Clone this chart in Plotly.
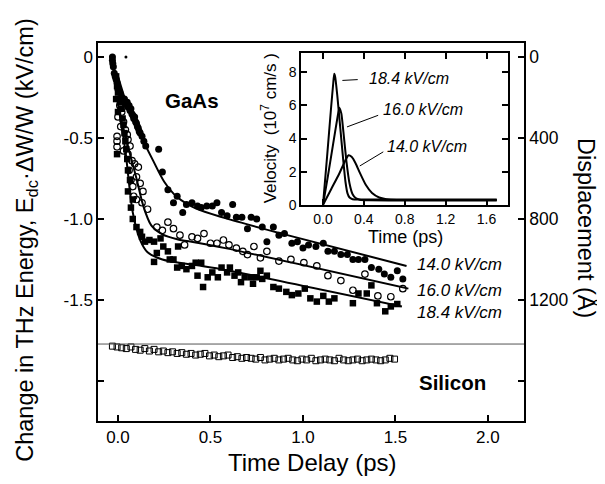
import plotly.graph_objects as go

# ---------------- data ----------------
# GaAs, 14.0 kV/cm (filled circles)
gaas_140_pts = [(-0.03, 0.0), (-0.03, -0.02), (-0.028, -0.04), (-0.025, -0.06), (-0.02, -0.10), (-0.015, -0.12),
                (-0.01, -0.14), (-0.005, -0.16), (0.0, -0.20), (0.01, -0.22), (0.02, -0.25), (0.03, -0.27),
                (0.035, -0.26), (0.04, -0.29), (0.05, -0.28), (0.055, -0.31), (0.06, -0.30), (0.065, -0.33),
                (0.07, -0.32), (0.075, -0.35), (0.08, -0.36), (0.085, -0.38), (0.09, -0.37), (0.095, -0.40),
                (0.10, -0.41), (0.105, -0.43), (0.11, -0.44), (0.115, -0.46), (0.12, -0.47), (0.13, -0.49),
                (0.14, -0.52), (0.15, -0.55), (0.22, -0.57), (0.24, -0.71), (0.27, -0.82), (0.30, -0.90),
                (0.32, -0.86), (0.35, -0.96), (0.37, -0.91), (0.40, -0.90), (0.43, -0.92), (0.45, -0.93),
                (0.48, -0.92), (0.51, -0.92), (0.535, -0.90), (0.56, -0.96), (0.59, -0.98), (0.62, -0.91),
                (0.64, -0.99), (0.67, -0.99), (0.70, -1.06), (0.72, -0.99), (0.75, -1.00), (0.78, -1.05),
                (0.805, -1.14), (0.84, -1.05), (0.87, -1.10), (0.90, -1.09), (0.94, -1.15), (0.97, -1.14),
                (1.00, -1.18), (1.03, -1.16), (1.07, -1.17), (1.11, -1.15), (1.135, -1.20), (1.17, -1.20),
                (1.205, -1.22), (1.24, -1.22), (1.27, -1.25), (1.30, -1.25), (1.335, -1.25), (1.37, -1.30),
                (1.41, -1.31), (1.44, -1.34), (1.475, -1.36), (1.51, -1.32), (1.54, -1.37)]
gaas_stray_pts = [(0.043, 0.0)]

# GaAs, 16.0 kV/cm (open circles)
gaas_160_pts = [(0.01, -0.30), (0.02, -0.34), (0.0, -0.37), (0.03, -0.40), (0.015, -0.43), (0.04, -0.45),
                (0.05, -0.48), (-0.005, -0.49), (-0.005, -0.52), (-0.005, -0.555), (0.054, -0.51),
                (0.065, -0.55), (0.03, -0.58), (0.054, -0.60), (0.076, -0.64), (0.09, -0.66), (0.06, -0.70),
                (0.11, -0.68), (0.07, -0.76), (0.10, -0.74), (0.08, -0.80), (0.12, -0.78), (0.085, -0.86),
                (0.135, -0.83), (0.10, -0.88), (0.13, -0.90), (0.16, -0.94), (0.21, -1.05), (0.24, -1.07),
                (0.27, -1.02), (0.30, -1.06), (0.335, -1.10), (0.36, -1.16), (0.40, -1.11), (0.43, -1.12),
                (0.465, -1.09), (0.50, -1.15), (0.535, -1.15), (0.57, -1.13), (0.60, -1.16), (0.64, -1.18),
                (0.675, -1.20), (0.70, -1.22), (0.735, -1.17), (0.77, -1.24), (0.805, -1.20), (0.87, -1.26),
                (0.935, -1.25), (1.005, -1.27), (1.075, -1.29), (1.135, -1.35), (1.205, -1.38), (1.27, -1.44),
                (1.335, -1.34), (1.405, -1.475), (1.475, -1.48), (1.54, -1.43)]

# GaAs, 18.4 kV/cm (filled squares)
gaas_184_pts = [(-0.01, -0.12), (-0.005, -0.18), (0.0, -0.22), (-0.01, -0.26), (0.01, -0.28), (0.02, -0.32),
                (0.0, -0.34), (0.025, -0.38), (0.03, -0.42), (0.035, -0.47), (0.04, -0.52), (-0.005, -0.60),
                (0.045, -0.57), (0.05, -0.63), (0.054, -0.70), (0.065, -0.76), (0.054, -0.83), (0.08, -0.88),
                (0.07, -0.93), (0.08, -1.00), (0.10, -1.05), (0.12, -1.08), (0.13, -1.11), (0.146, -1.14),
                (0.17, -1.13), (0.195, -1.14), (0.21, -1.21), (0.23, -1.12), (0.245, -1.17), (0.27, -1.20),
                (0.195, -1.265), (0.28, -1.25), (0.30, -1.25), (0.325, -1.17), (0.32, -1.30), (0.345, -1.29),
                (0.37, -1.31), (0.40, -1.29), (0.42, -1.27), (0.45, -1.27), (0.43, -1.35), (0.46, -1.42),
                (0.485, -1.36), (0.51, -1.33), (0.54, -1.36), (0.56, -1.30), (0.59, -1.33), (0.605, -1.30),
                (0.63, -1.35), (0.65, -1.33), (0.665, -1.39), (0.685, -1.36), (0.72, -1.36), (0.73, -1.40),
                (0.75, -1.36), (0.77, -1.32), (0.78, -1.37), (0.805, -1.35), (0.84, -1.42), (0.87, -1.43),
                (0.91, -1.45), (0.94, -1.47), (0.975, -1.46), (1.01, -1.43), (1.04, -1.49), (1.075, -1.51),
                (1.11, -1.475), (1.14, -1.51), (1.17, -1.49), (1.27, -1.52), (1.30, -1.46), (1.345, -1.46),
                (1.37, -1.41), (1.40, -1.52), (1.445, -1.57), (1.475, -1.54), (1.51, -1.525)]

# Fit curves
fit_140_t = [0.0, 0.047, 0.108, 0.19, 0.25, 0.32, 0.42, 0.58, 0.90, 1.56]
fit_140_v = [-0.12, -0.29, -0.45, -0.64, -0.77, -0.865, -0.935, -0.995, -1.095, -1.29]
fit_160_t = [0.0, 0.07, 0.10, 0.137, 0.18, 0.24, 0.32, 0.42, 0.58, 1.57]
fit_160_v = [-0.31, -0.62, -0.75, -0.92, -1.04, -1.095, -1.125, -1.145, -1.18, -1.43]
fit_184_t = [0.0, 0.04, 0.08, 0.12, 0.16, 0.24, 0.42, 0.58, 1.535]
fit_184_v = [-0.29, -0.58, -0.96, -1.13, -1.205, -1.25, -1.285, -1.315, -1.54]

# Silicon (open squares)
si_t = [-0.03, -0.005, 0.02, 0.045, 0.07, 0.095, 0.12, 0.145, 0.17, 0.195,
        0.22, 0.245, 0.27, 0.295, 0.32, 0.345, 0.37, 0.395, 0.42, 0.445,
        0.47, 0.495, 0.52, 0.545, 0.57, 0.595, 0.62, 0.645, 0.67, 0.695,
        0.72, 0.745, 0.77, 0.795, 0.82, 0.845, 0.87, 0.895, 0.92, 0.945,
        0.97, 0.995, 1.02, 1.045, 1.07, 1.095, 1.12, 1.145, 1.17, 1.195,
        1.22, 1.245, 1.27, 1.295, 1.32, 1.345, 1.37, 1.395, 1.42, 1.445,
        1.47, 1.495]
si_v = [-1.785, -1.79, -1.795, -1.80, -1.79, -1.805, -1.81, -1.80, -1.815, -1.805,
        -1.82, -1.815, -1.825, -1.82, -1.83, -1.825, -1.835, -1.83, -1.84, -1.835,
        -1.83, -1.845, -1.84, -1.85, -1.845, -1.84, -1.855, -1.85, -1.86, -1.855,
        -1.86, -1.865, -1.855, -1.87, -1.865, -1.86, -1.87, -1.865, -1.86, -1.87,
        -1.875, -1.865, -1.87, -1.86, -1.875, -1.87, -1.865, -1.87, -1.875, -1.86,
        -1.87, -1.875, -1.87, -1.865, -1.875, -1.87, -1.865, -1.87, -1.875, -1.87,
        -1.86, -1.865]
separator_level = -1.772

# Inset velocity curves
vel_184_t = [0.0, 0.04, 0.08, 0.10, 0.11, 0.12, 0.14, 0.17, 0.20, 0.22, 0.24, 0.26, 0.29, 0.35, 0.5, 1.0, 1.7]
vel_184_v = [0.0, 2.9, 5.9, 7.3, 7.9, 7.7, 6.6, 4.6, 2.6, 1.4, 0.7, 0.45, 0.35, 0.33, 0.33, 0.33, 0.33]
vel_160_t = [0.0, 0.05, 0.10, 0.14, 0.16, 0.18, 0.20, 0.23, 0.26, 0.29, 0.32, 0.36, 0.45, 1.0, 1.7]
vel_160_v = [0.0, 1.8, 3.7, 5.2, 5.85, 5.5, 4.4, 2.6, 1.3, 0.65, 0.42, 0.32, 0.28, 0.27, 0.27]
vel_140_t = [0.0, 0.08, 0.16, 0.22, 0.25, 0.28, 0.32, 0.36, 0.42, 0.48, 0.55, 0.62, 0.72, 1.0, 1.7]
vel_140_v = [0.0, 0.95, 1.9, 2.7, 3.0, 2.9, 2.5, 1.95, 1.2, 0.72, 0.45, 0.35, 0.3, 0.3, 0.3]

field_labels = ["14.0 kV/cm", "16.0 kV/cm", "18.4 kV/cm"]

left_ticks = [0, -0.5, -1.0, -1.5]
left_ticktext = ["0", "-0.5", "-1.0", "-1.5"]
left_unlabeled_ticks = [-2.0]
bottom_ticks = [0, 0.5, 1.0, 1.5, 2.0]
bottom_ticktext = ["0.0", "0.5", "1.0", "1.5", "2.0"]
right_ticks = [0, 400, 800, 1200]
right_unlabeled_ticks = [1600]
inset_xticks = [0, 0.4, 0.8, 1.2, 1.6]
inset_xticktext = ["0.0", "0.4", "0.8", "1.2", "1.6"]
inset_yticks = [0, 2, 4, 6, 8]

FONT = "Liberation Sans, Arial, sans-serif"

fig = go.Figure()

def pts(p):
    return [a for a, b in p], [b for a, b in p]

x, y = pts(gaas_140_pts)
fig.add_trace(go.Scatter(x=x, y=y, mode="markers", marker=dict(symbol="circle", size=7, color="black"),
                         showlegend=False))
x, y = pts(gaas_stray_pts)
fig.add_trace(go.Scatter(x=x, y=y, mode="markers", marker=dict(symbol="circle", size=3, color="black"),
                         showlegend=False))
x, y = pts(gaas_160_pts)
fig.add_trace(go.Scatter(x=x, y=y, mode="markers",
                         marker=dict(symbol="circle-open", size=6.5, color="black", line=dict(width=1.2)),
                         showlegend=False))
x, y = pts(gaas_184_pts)
fig.add_trace(go.Scatter(x=x, y=y, mode="markers", marker=dict(symbol="square", size=6.5, color="black"),
                         showlegend=False))
fig.add_trace(go.Scatter(x=si_t, y=si_v, mode="markers",
                         marker=dict(symbol="square-open", size=6, color="black", line=dict(width=1)),
                         showlegend=False))
for t, v in [(fit_140_t, fit_140_v), (fit_160_t, fit_160_v), (fit_184_t, fit_184_v)]:
    fig.add_trace(go.Scatter(x=t, y=v, mode="lines", line=dict(color="black", width=2, shape="spline", smoothing=0.8),
                             showlegend=False))

# dummy trace for right axis
fig.add_trace(go.Scatter(x=[None], y=[None], yaxis="y3", showlegend=False, hoverinfo="skip"))

# inset
for t, v in [(vel_184_t, vel_184_v), (vel_160_t, vel_160_v), (vel_140_t, vel_140_v)]:
    fig.add_trace(go.Scatter(x=t, y=v, xaxis="x2", yaxis="y2", mode="lines",
                             line=dict(color="black", width=2, shape="spline", smoothing=0.5), showlegend=False))

axis_common = dict(showgrid=False, zeroline=False, showline=True, linecolor="black", linewidth=1.5,
                   ticks="inside", ticklen=6, tickwidth=1.5, tickcolor="black")

# The page body adds an 8 px offset; margins compensate so the plot area lands at 98..524 x 43..421
fig.update_layout(
    width=605, height=484,
    margin=dict(l=90, r=89, t=35, b=71),
    paper_bgcolor="white", plot_bgcolor="white",
    font=dict(family=FONT, color="black"),
    xaxis=dict(domain=[0, 1], range=[-0.108, 2.195], tickvals=bottom_ticks, ticktext=bottom_ticktext,
               mirror=True, tickfont=dict(size=17), anchor="y", **axis_common),
    yaxis=dict(domain=[0, 1], range=[-2.247, 0.086], tickvals=left_ticks, ticktext=left_ticktext,
               tickfont=dict(size=17), anchor="x",
               minor=dict(tickvals=left_unlabeled_ticks, ticks="inside", ticklen=6, tickwidth=1.5,
                          tickcolor="black", showgrid=False),
               **axis_common),
    yaxis3=dict(overlaying="y", side="right", range=[1797.6, -68.8], tickvals=right_ticks,
                tickfont=dict(size=17.5), anchor="x",
                minor=dict(tickvals=right_unlabeled_ticks, ticks="inside", ticklen=6, tickwidth=1.5,
                           tickcolor="black", showgrid=False),
                **axis_common),
    xaxis2=dict(domain=[0.4765, 0.9624], anchor="y2", range=[-0.215, 1.81], tickvals=inset_xticks,
                ticktext=inset_xticktext, mirror="ticks", tickfont=dict(size=14), **axis_common),
    yaxis2=dict(domain=[0.5714, 0.9735], anchor="x2", range=[0, 9.15], tickvals=inset_yticks,
                mirror="ticks", tickfont=dict(size=14), **axis_common),
)

fig.add_shape(type="line", xref="x domain", yref="y", x0=0, x1=1, y0=separator_level, y1=separator_level,
              line=dict(color="#555555", width=1))

ann = []
ann.append(dict(text="Change in THz Energy, E<sub>dc</sub>·ΔW/W (kV/cm)", x=-0.167, y=0.479, xref="paper",
                yref="paper", textangle=-90, showarrow=False, font=dict(size=23.5), xanchor="center", yanchor="middle"))
ann.append(dict(text="Time Delay (ps)", x=0.502, y=-0.111, xref="paper", yref="paper", showarrow=False,
                font=dict(size=24), xanchor="center", yanchor="middle"))
ann.append(dict(text="Displacement (Å)", x=1.145, y=0.511, xref="paper", yref="paper", textangle=90,
                showarrow=False, font=dict(size=23.5), xanchor="center", yanchor="middle"))
ann.append(dict(text="<b>GaAs</b>", x=0.221, y=0.849, xref="paper", yref="paper", showarrow=False,
                font=dict(size=20.5), xanchor="center", yanchor="middle"))
ann.append(dict(text="<b>Silicon</b>", x=0.833, y=0.103, xref="paper", yref="paper", showarrow=False,
                font=dict(size=20.5), xanchor="center", yanchor="middle"))
for lab, yy in zip(field_labels, [0.415, 0.344, 0.288]):
    ann.append(dict(text="<i>" + lab + "</i>", x=0.745, y=yy, xref="paper", yref="paper", showarrow=False,
                    font=dict(size=17), xanchor="left", yanchor="middle"))
ann.append(dict(text="Velocity  (10<sup>7</sup> cm/s )", x=0.402, y=0.775, xref="paper", yref="paper",
                textangle=-90, showarrow=False, font=dict(size=17), xanchor="center", yanchor="middle"))
ann.append(dict(text="Time (ps)", x=0.723, y=0.487, xref="paper", yref="paper", showarrow=False,
                font=dict(size=18), xanchor="center", yanchor="middle"))
# inset labels with leader lines
inset_lab = [("18.4 kV/cm", 0.43, 7.6, 0.19, 7.5, 0.34, 7.55),
             ("16.0 kV/cm", 0.57, 5.75, 0.235, 4.7, 0.54, 5.4),
             ("14.0 kV/cm", 0.61, 3.5, 0.36, 2.35, 0.59, 3.2)]
for lab, lx, ly, ax0, ay0, ax1, ay1 in inset_lab:
    ann.append(dict(text="<i>" + lab + "</i>", x=lx, y=ly, xref="x2", yref="y2", showarrow=False,
                    font=dict(size=16), xanchor="left", yanchor="middle"))
    fig.add_shape(type="line", xref="x2", yref="y2", x0=ax0, y0=ay0, x1=ax1, y1=ay1,
                  line=dict(color="black", width=1))
fig.update_layout(annotations=ann)

fig.write_html("out.html")
